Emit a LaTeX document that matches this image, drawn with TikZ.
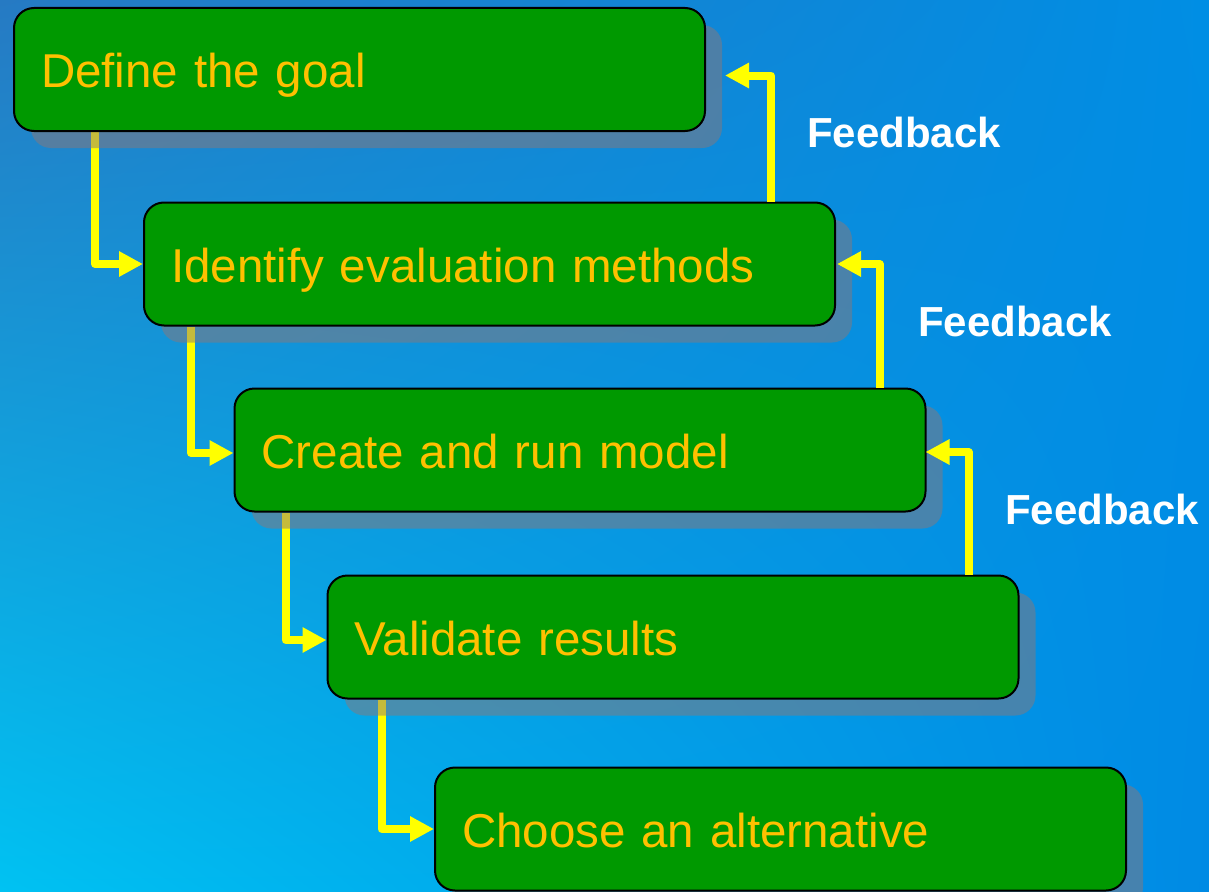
\documentclass[tikz,border=0pt]{standalone}
\usepackage{fontspec}
\setmainfont{Liberation Sans}
\usetikzlibrary{arrows.meta,shadows,shadings,calc}
\pgfdeclarelayer{bglayer}
\pgfdeclarelayer{connlayer}
\pgfsetlayers{bglayer,connlayer,main}
\definecolor{bgUL}{RGB}{38,122,195}
\definecolor{bgUR}{RGB}{0,142,228}
\definecolor{bgLL}{RGB}{0,194,242}
\definecolor{bgLR}{RGB}{0,138,228}
\definecolor{boxgreen}{RGB}{0,153,0}
\definecolor{txtorange}{RGB}{255,192,0}
\definecolor{lineyellow}{RGB}{255,255,0}
\definecolor{shadowc}{RGB}{140,120,120}
\tikzset{
  stepbox/.style={rectangle, rounded corners=20pt, draw=black, line width=2pt,
    fill=boxgreen, minimum width=691pt, minimum height=123pt,
    text width=637pt, align=left, inner xsep=27pt, inner ysep=0pt,
    text height=37pt, text depth=0pt, text=txtorange,
    font=\fontsize{47.5}{57}\selectfont,
    drop shadow={shadow xshift=17pt, shadow yshift=-17pt, fill=shadowc, opacity=.5}},
  conn/.style={draw=lineyellow, line width=8pt, line join=round,
    -{Triangle[length=24pt,width=24pt]}},
  fblabel/.style={anchor=base west, inner sep=0pt, text=white,
    font=\fontsize{42}{50}\selectfont\bfseries}
}
\begin{document}
\begin{tikzpicture}[x=1pt,y=-1pt]
\useasboundingbox (0,0) rectangle (1209,891);
\begin{pgfonlayer}{bglayer}
\shade[upper left=bgUL, upper right=bgUR, lower left=bgLL, lower right=bgLR]
  (0,0) rectangle (1209,891);
\end{pgfonlayer}
% boxes with shadows
\node[stepbox] (b1) at (359.5,69.5) {Define the goal};
\node[stepbox] (b2) at (489.5,264) {Identify evaluation methods};
\node[stepbox] (b3) at (580,450) {Create and run model};
\node[stepbox] (b4) at (673,637) {Validate results};
\node[stepbox] (b5) at (780.5,829) {Choose an alternative};
% downward connectors, under the shadows
\begin{pgfonlayer}{connlayer}
\draw[conn] ([xshift=82pt]b1.south west) |- (b2.west);
\draw[conn] ([xshift=48pt]b2.south west) |- ([yshift=-3pt]b3.west);
\draw[conn] ([xshift=52pt]b3.south west) |- ([yshift=-3pt]b4.west);
\draw[conn] ([xshift=55pt]b4.south west) |- (b5.west);
\end{pgfonlayer}
% feedback arrows
\draw[conn] ([xshift=628pt]b2.north west) |- ([xshift=19pt,yshift=-6pt]b1.east);
\draw[conn] ([xshift=646pt]b3.north west) |- ([xshift=1pt]b2.east);
\draw[conn] ([xshift=642pt]b4.north west) |- ([xshift=-1pt,yshift=-2pt]b3.east);
\node[fblabel] (f1) at (807,147) {Feedback};
\node[fblabel] (f2) at (918,336) {Feedback};
\node[fblabel] (f3) at (1005,524) {Feedback};
\end{tikzpicture}
\end{document}
